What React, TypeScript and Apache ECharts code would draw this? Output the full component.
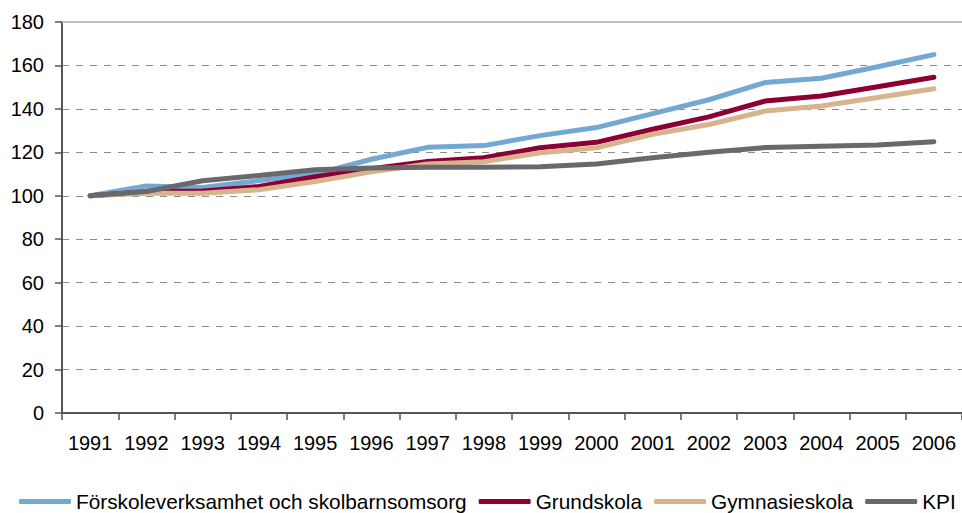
import React, { useEffect, useRef } from "react";
import * as echarts from "echarts";

const years = ["1991","1992","1993","1994","1995","1996","1997","1998","1999","2000","2001","2002","2003","2004","2005","2006"];
const forskola = [100, 104.5, 103.8, 107, 110, 116.8, 122.3, 123.1, 127.7, 131.4, 137.8, 144.2, 152.1, 154.1, 159.4, 165];
const grundskola = [100, 101.8, 102.2, 104.3, 108.8, 112.5, 115.8, 117.5, 122.1, 124.6, 130.6, 136.3, 143.6, 145.9, 150.2, 154.6];
const gymnasieskola = [100, 101.2, 101.2, 102.8, 106.6, 111, 114.6, 115.7, 119.8, 122.1, 128.3, 132.8, 139, 141.3, 145.2, 149.3];
const kpi = [100, 102, 106.9, 109.3, 112, 112.8, 113.1, 113.1, 113.4, 114.6, 117.5, 120, 122.2, 122.8, 123.4, 124.9];

const seriesNames = ["Förskoleverksamhet och skolbarnsomsorg", "Grundskola", "Gymnasieskola", "KPI"];
const seriesColors = ["#72a8d1", "#8c0033", "#d8b48e", "#68686d"];
const seriesData = [forskola, grundskola, gymnasieskola, kpi];

const FONT = "Arial, 'Liberation Sans', sans-serif";

export default function App() {
  const ref = useRef<HTMLDivElement>(null);
  useEffect(() => {
    if (!ref.current) return;
    const chart = echarts.init(ref.current, null, { renderer: "svg" });
    chart.setOption({
      animation: false,
      backgroundColor: "#ffffff",
      grid: { left: 62, top: 22, bottom: 100, width: 901 },
      legend: {
        top: 486,
        left: 14,
        icon: "roundRect",
        itemWidth: 52,
        itemHeight: 5,
        itemGap: 12,
        textStyle: { fontFamily: FONT, fontSize: 20.8, color: "#000" },
        data: seriesNames,
      },
      xAxis: {
        type: "category",
        data: years,
        boundaryGap: true,
        axisLine: { lineStyle: { color: "#555", width: 2 } },
        axisTick: { show: true, length: 7, interval: 0, lineStyle: { color: "#555", width: 1.5 } },
        axisLabel: { interval: 0, fontFamily: FONT, fontSize: 20, color: "#000", margin: 20 },
        splitLine: { show: false },
      },
      yAxis: {
        type: "value",
        min: 0,
        max: 180,
        interval: 20,
        axisLine: { show: true, lineStyle: { color: "#555", width: 2 } },
        axisTick: { show: true, length: 7, lineStyle: { color: "#555", width: 1.5 } },
        axisLabel: { fontFamily: FONT, fontSize: 20, color: "#000", margin: 18 },
        splitLine: { show: true, lineStyle: { color: "#8c8c8c", type: [7, 7], width: 1 } },
      },
      series: seriesNames.map((name, i) => ({
        name,
        type: "line",
        data: seriesData[i],
        symbol: "none",
        lineStyle: { color: seriesColors[i], width: 5, cap: "round", join: "round" },
        itemStyle: { color: seriesColors[i] },
        z: 2 + i,
        markLine: i === 0 ? {
          silent: true,
          symbol: "none",
          label: { show: false },
          lineStyle: { color: "#c0c0c0", type: "solid", width: 2 },
          data: [{ yAxis: 180 }],
        } : undefined,
      })),
    });
    return () => chart.dispose();
  }, []);
  return <div ref={ref} style={{ width: 962, height: 513, position: "absolute", left: 0, top: 0 }} />;
}
